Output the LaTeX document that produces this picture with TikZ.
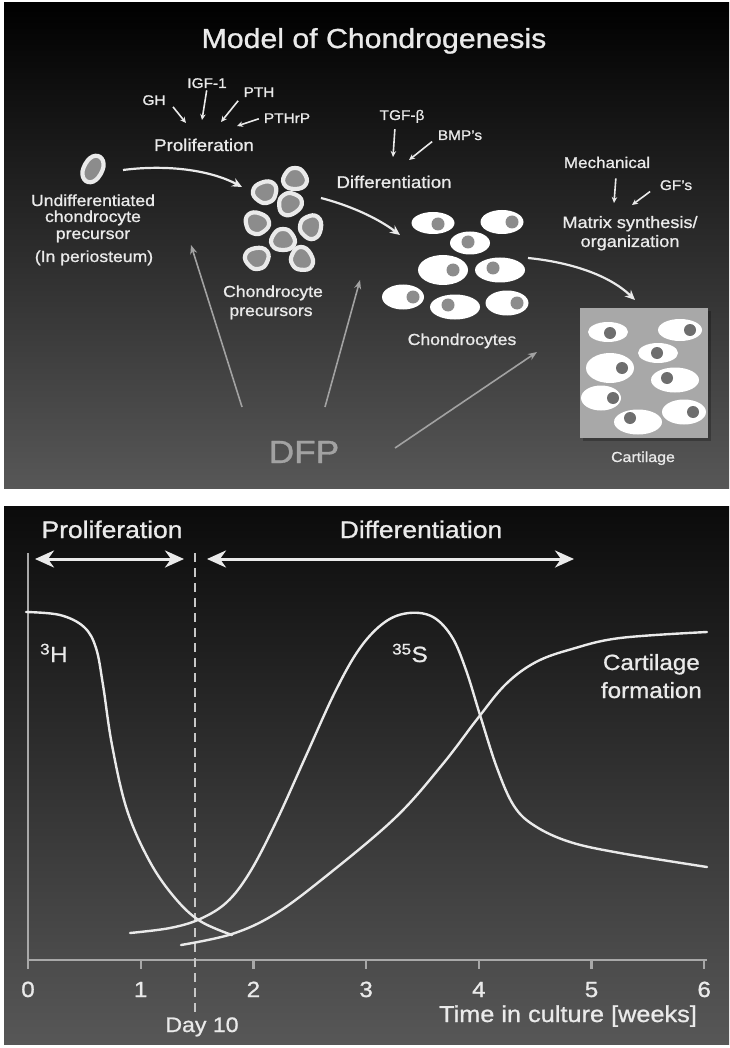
\documentclass[tikz,border=0pt]{standalone}
\usepackage{fontspec}
\setmainfont{Liberation Sans}[FakeStretch=1.1, FakeBold=1]
\usetikzlibrary{arrows.meta,positioning}

\definecolor{panelgray}{HTML}{575757}
\definecolor{paneldark}{HTML}{0B0B0B}
\definecolor{inkwhite}{HTML}{EAEAEA}
\definecolor{nucgray}{HTML}{8C8C8C}
\definecolor{nucdark}{HTML}{6E6E6E}
\definecolor{dfpgray}{HTML}{A2A2A2}
\definecolor{matrixgray}{HTML}{A8A8A8}
\definecolor{axisgray}{HTML}{A8A8A8}

\tikzset{
  txt/.style={text=inkwhite, inner sep=0pt, anchor=base},
  pxfont/.style={font=\fontsize{#1}{#1}\selectfont},
  sig/.style={draw=inkwhite, line width=1.6pt, -{Stealth[length=6pt,width=5.5pt]}, shorten <=2pt},
  flow/.style={draw=inkwhite, line width=2.2pt, -{Stealth[length=10pt,width=9pt]}},
  dfparrow/.style={draw=dfpgray, line width=1.6pt, -{Stealth[length=9pt,width=7pt]}},
  span/.style={draw=inkwhite, line width=3pt,
    {Stealth[length=19pt,width=17pt,inset=6pt]}-{Stealth[length=19pt,width=17pt,inset=6pt]}},
  curve/.style={draw=inkwhite, line width=2.4pt, line cap=round},
  precell/.style={fill=nucgray, draw=inkwhite, line width=4.2pt},
}

% chondrocyte: x, y, x radius, y radius, nucleus x, nucleus y
\newcommand{\chondro}[6]{%
  \fill[white] (#1,#2) ellipse (#3 and #4);
  \fill[nucgray] (#5,#6) circle (6.5);}
\newcommand{\embedded}[6]{%
  \fill[white] (#1,#2) ellipse (#3 and #4);
  \fill[nucdark] (#5,#6) circle (6);}
% chondrocyte precursor: x, y, angle
\newcommand{\precell}[3]{%
  \filldraw[precell, shift={(#1,#2)}, rotate=#3]
    plot[smooth cycle, tension=0.85] coordinates {(0,-11) (9,-6) (11,5) (0,10) (-11,5) (-9,-6)};}

\begin{document}
\begin{tikzpicture}[x=1pt,y=-1pt]
\useasboundingbox (0,0) rectangle (729,1048);
\fill[white] (0,0) rectangle (729,1048);
\shade[top color=black, bottom color=panelgray] (4,3) rectangle (729,488);
\shade[top color=paneldark, bottom color=panelgray] (4,506) rectangle (729,1044);

% ---- model of chondrogenesis
\node[txt, pxfont=27.5] (title) at (374,48) {Model of Chondrogenesis};

\node[txt, pxfont=14] (gh) at (154,105) {GH};
\node[txt, pxfont=14] (igf) at (207,88) {IGF-1};
\node[txt, pxfont=14] (pth) at (259,97) {PTH};
\node[txt, pxfont=14] (pthrp) at (287,123) {PTHrP};
\node[txt, pxfont=17] (prolif) at (204,151) {Proliferation};
\coordinate (gh-tip) at (186,123);
\coordinate (igf-tip) at (202,120);
\coordinate (pth-tip) at (221,122);
\coordinate (pthrp-tip) at (237,126);
\draw[sig] ([shift={(6,0)}]gh.south east) -- (gh-tip);
\draw[sig] (igf.south) -- (igf-tip);
\draw[sig] ([shift={(-4,2)}]pth.south west) -- (pth-tip);
\draw[sig] ([shift={(-3,0)}]pthrp.west) -- (pthrp-tip);

\node[txt, pxfont=14] (tgf) at (402,120) {TGF-β};
\node[txt, pxfont=14] (bmp) at (460,140) {BMP's};
\node[txt, pxfont=17] (diff) at (394,188) {Differentiation};
\coordinate (tgf-tip) at (393,157);
\coordinate (bmp-tip) at (409,160);
\draw[sig] ([shift={(-7,4)}]tgf.south) -- (tgf-tip);
\draw[sig] ([shift={(-4,0)}]bmp.south west) -- (bmp-tip);

\node[txt, pxfont=15.5] (mech) at (607,168) {Mechanical};
\node[txt, pxfont=14] (gfs) at (676,190) {GF's};
\node[txt, pxfont=16.5] (matrix) at (630,228) {Matrix synthesis/};
\node[txt, pxfont=16.5] (organiz) at (630,247) {organization};
\coordinate (mech-tip) at (614,203);
\coordinate (gfs-tip) at (632,205);
\draw[sig] ([shift={(9,8)}]mech.south) -- (mech-tip);
\draw[sig] ([shift={(-8,0)}]gfs.south west) -- (gfs-tip);

% undifferentiated cell
\filldraw[precell, shift={(93,169)}, rotate=-30]
  plot[smooth cycle, tension=0.7] coordinates {(0,-14) (8,-7) (8,8) (0,14) (-8,7) (-8,-8)};
\node[txt, pxfont=16] (undiff) at (93,206) {Undifferentiated};
\node[txt, pxfont=16] (undiff2) at (93,222) {chondrocyte};
\node[txt, pxfont=16] (undiff3) at (93,239) {precursor};
\node[txt, pxfont=16] (perio) at (94,262) {(In periosteum)};

% chondrocyte precursors
\precell{295}{179}{0}
\precell{265}{192}{200}
\precell{290}{204}{35}
\precell{257}{223}{160}
\precell{311}{227}{80}
\precell{283}{240}{0}
\precell{257}{258}{190}
\precell{302}{259}{120}
\node[txt, pxfont=16] (prec1) at (273,297) {Chondrocyte};
\node[txt, pxfont=16] (prec2) at (271,316) {precursors};

% chondrocytes
\chondro{433}{223}{21.5}{11}{438}{224}
\chondro{502}{222}{21.5}{12}{512}{222}
\chondro{470}{243}{20}{11.5}{468}{242}
\chondro{443}{270}{25}{15}{453}{270}
\chondro{500}{270}{25}{12.5}{493}{268}
\chondro{403}{297}{21}{12.5}{413}{297}
\chondro{455}{307}{25}{12.5}{448}{305}
\chondro{507}{303}{21.5}{12.5}{517}{303}
\node[txt, pxfont=16] (chondro) at (462,345) {Chondrocytes};

% cartilage block
\fill[black, opacity=0.25] (583,311) rectangle (711,441);
\fill[matrixgray] (580,308) rectangle (708,438);
\embedded{608}{332}{20}{10}{610}{333}
\embedded{680}{330}{22}{11}{690}{330}
\embedded{658}{353}{20}{10}{657}{353}
\embedded{610}{368}{24}{15}{622}{368}
\embedded{675}{380}{24}{12.5}{667}{378}
\embedded{601}{398}{20}{12.5}{613}{398}
\embedded{638}{422}{24}{12.5}{630}{418}
\embedded{684}{412}{22}{12.5}{693}{412}
\node[txt, pxfont=14.5] (cartil) at (643,462) {Cartilage};

% flow between the stages
\coordinate (undiff-out) at (123,170);
\coordinate (prec-in) at (242,187);
\coordinate (prec-out) at (321,198);
\coordinate (chon-in) at (400,235);
\coordinate (chon-out) at (528,258);
\coordinate (cart-in) at (635,300);
\draw[flow] (undiff-out) .. controls (170,164) and (212,171) .. (prec-in);
\draw[flow] (prec-out) .. controls (348,205) and (376,217) .. (chon-in);
\draw[flow] (chon-out) .. controls (568,262) and (608,274) .. (cart-in);

% DFP
\node[txt, pxfont=32, text=dfpgray] (dfp) at (304,463) {DFP};
\coordinate (dfp-a) at (242,407);
\coordinate (dfp-b) at (325,407);
\coordinate (dfp-c) at (395,448);
\coordinate (dfp-a-tip) at (191,245);
\coordinate (dfp-b-tip) at (360,280);
\coordinate (dfp-c-tip) at (537,352);
\draw[dfparrow] (dfp-a) -- (dfp-a-tip);
\draw[dfparrow] (dfp-b) -- (dfp-b-tip);
\draw[dfparrow] (dfp-c) -- (dfp-c-tip);

% ---- time course in culture
\node[txt, pxfont=24] (prolifhd) at (112,538) {Proliferation};
\node[txt, pxfont=24] (diffhd) at (421,538) {Differentiation};
\coordinate (prolif-l) at (35,559);
\coordinate (prolif-r) at (184,559);
\coordinate (diff-l) at (207,559);
\coordinate (diff-r) at (574,559);
\draw[span] (prolif-l) -- (prolif-r);
\draw[span] (diff-l) -- (diff-r);

\coordinate (origin) at (28,960);
\coordinate (ytop) at (28,553);
\coordinate (xend) at (707,960);
\draw[axisgray, line width=2.2pt] (ytop) -- (origin) -- (xend);
\foreach \t in {0,...,6}
  \draw[axisgray, line width=2.2pt] (28+112.7*\t,960) -- (28+112.7*\t,969)
    node[txt, pxfont=22, anchor=base] at (28+112.7*\t,997) {\t};

\coordinate (day-top) at (195,553);
\coordinate (day-bot) at (195,1017);
\draw[inkwhite!85!black, line width=1.8pt, dash pattern=on 9pt off 6pt] (day-top) -- (day-bot);
\node[txt, pxfont=21] (day) at (202,1032) {Day 10};
\node[txt, pxfont=23] (time) at (568,1022) {Time in culture [weeks]};

% 3H uptake
\draw[curve] plot[smooth, tension=0.6] coordinates {(26,612) (60,615) (84,627) (96,648) (103,685)
  (112,745) (127,810) (150,862) (175,898) (200,921) (232,935)};
% 35S uptake
\draw[curve] plot[smooth, tension=0.6] coordinates {(130,933) (170,928) (200,919) (227,902) (250,872)
  (276,822) (305,758) (335,692) (360,648) (385,622) (409,613) (433,617) (452,637) (466,670)
  (480,715) (497,768) (514,806) (535,826) (570,842) (620,853) (707,867)};
% cartilage formation
\draw[curve] plot[smooth, tension=0.6] coordinates {(181,945) (232,934) (275,914) (325,877) (395,818)
  (442,765) (478,718) (506,684) (536,662) (572,649) (620,638) (707,632)};

\node[txt, pxfont=22, anchor=base west] (h3) at (40,662) {\textsuperscript{3}H};
\node[txt, pxfont=22] (s35) at (410,662) {\textsuperscript{35}S};
\node[txt, pxfont=22, anchor=base east] (cartform1) at (700,670) {Cartilage};
\node[txt, pxfont=22, anchor=base east] (cartform2) at (702,698) {formation};
\end{tikzpicture}
\end{document}
